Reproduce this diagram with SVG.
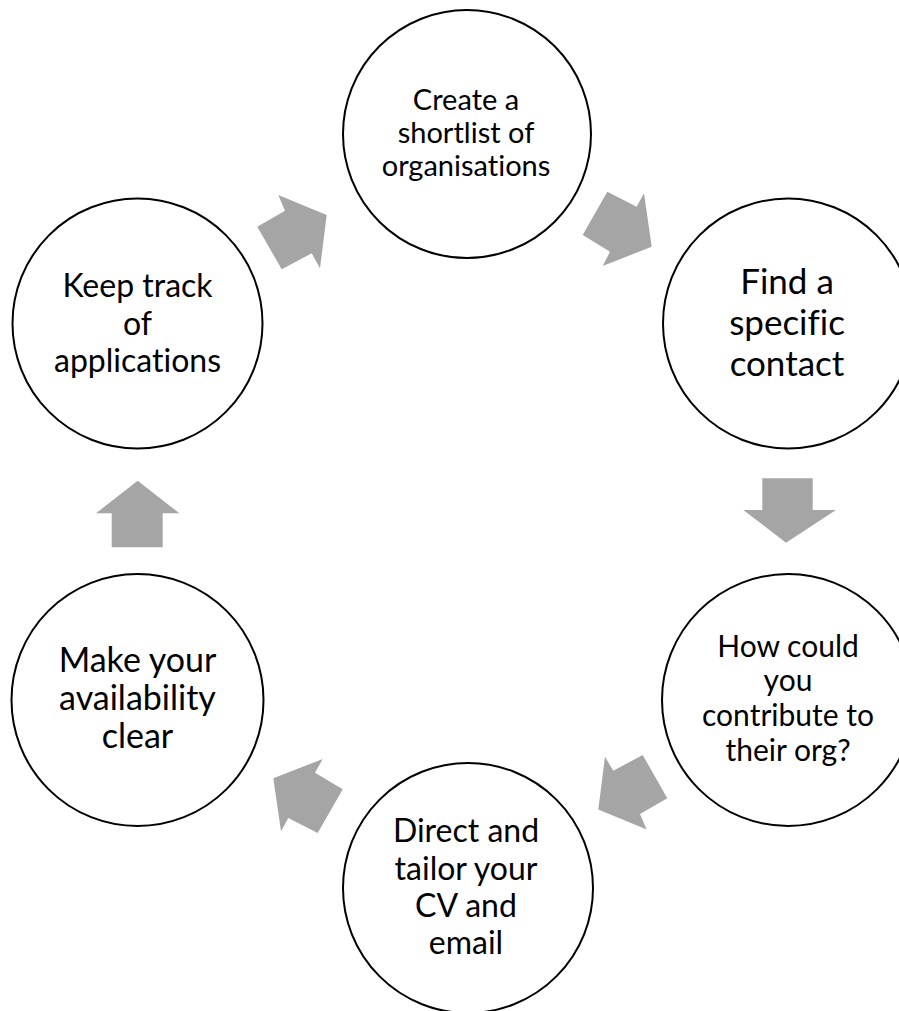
<svg xmlns="http://www.w3.org/2000/svg" width="899" height="1011" viewBox="0 0 899 1011">
<style>
.node circle{fill:#fff;stroke:#000;stroke-width:2}
.node text{font-family:Lato,"Liberation Sans",sans-serif;fill:#000;text-anchor:middle;font-variant-ligatures:none;font-feature-settings:"liga" 0}
.arrow{fill:#A5A5A5;stroke:none}
</style>
<rect width="899" height="1011" fill="#fff"/>
<g id="connectors">
<polygon class="arrow" points="326.7,215 320,268.3 311.7,253.3 281.7,269.3 257.3,226.7 285,210.7 278.3,195"/>
<polygon class="arrow" points="651.7,246.7 602.7,266 610,251.7 582.7,235 607.3,191.7 636.7,206.7 644,193.3"/>
<polygon class="arrow" points="762.3,478.3 812.7,478.3 812.7,510 836,510 786,542.7 743.3,510 762.3,510"/>
<polygon class="arrow" points="598.3,809.6 605,756.7 613.3,770.7 642.7,755 667.3,798.3 640,814 646.7,829.6"/>
<polygon class="arrow" points="273.3,778.3 322.7,759 315,772.7 342.7,789.3 317.7,833 288.3,818 281,831.3"/>
<polygon class="arrow" points="137.7,480.7 179.3,513.3 162.7,513.3 162.7,547.3 111.7,547.3 111.7,513.3 96,513.3"/>
</g>
<g id="node-shortlist" class="node">
<circle cx="467" cy="134" r="124"/>
<text font-size="29"><tspan x="466" y="110">Create a</tspan><tspan x="466" y="143">shortlist of</tspan><tspan x="466" y="176">organisations</tspan></text>
</g>
<g id="node-contact" class="node">
<circle cx="788" cy="323.5" r="125"/>
<text font-size="35"><tspan x="787" y="294">Find a</tspan><tspan x="787" y="335">specific</tspan><tspan x="787" y="376">contact</tspan></text>
</g>
<g id="node-contribute" class="node">
<circle cx="788" cy="700" r="126"/>
<text font-size="30"><tspan x="788" y="657">How could</tspan><tspan x="788" y="691">you</tspan><tspan x="788" y="726">contribute to</tspan><tspan x="788" y="761">their org?</tspan></text>
</g>
<g id="node-tailor" class="node">
<circle cx="468" cy="888" r="125"/>
<text font-size="32"><tspan x="466" y="842">Direct and</tspan><tspan x="466" y="880">tailor your</tspan><tspan x="466" y="917">CV and</tspan><tspan x="466" y="954">email</tspan></text>
</g>
<g id="node-availability" class="node">
<circle cx="137.5" cy="700" r="126"/>
<text font-size="34"><tspan x="137.5" y="672">Make your</tspan><tspan x="137.5" y="710">availability</tspan><tspan x="137.5" y="748">clear</tspan></text>
</g>
<g id="node-track" class="node">
<circle cx="137.5" cy="323.5" r="125"/>
<text font-size="32"><tspan x="137.5" y="297">Keep track</tspan><tspan x="137.5" y="335">of</tspan><tspan x="137.5" y="372">applications</tspan></text>
</g>
</svg>
